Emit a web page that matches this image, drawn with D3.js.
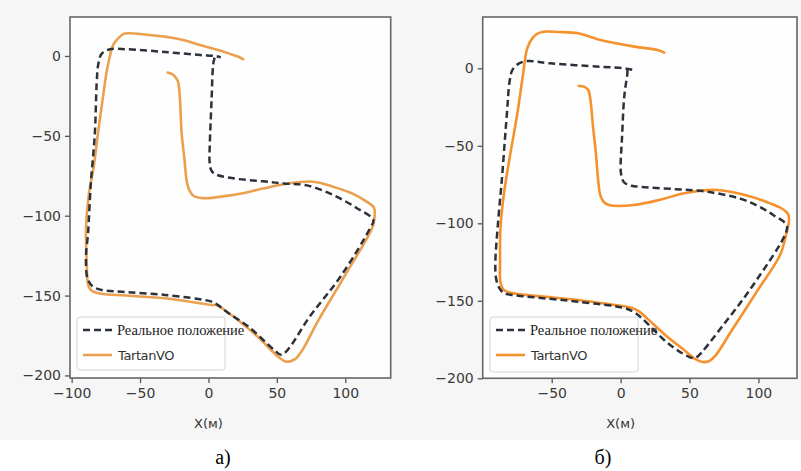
<!DOCTYPE html>
<html>
<head>
<meta charset="utf-8">
<script src="https://cdn.jsdelivr.net/npm/d3@7"></script>
<style>
  body { margin: 0; background: #fff; }
  svg { display: block; }
</style>
</head>
<body>
<div id="chart"></div>
<script>
// ground truth (dashed) and TartanVO trajectories, [x, y] in metres
const gtA = [[4.5,-1],[3.5,-5],[2.3,-27],[1,-55],[0.8,-66],[2,-71.5],[5,-74],[18,-76.6],[40,-78.5],[55,-79.8],[72,-81],[91,-87],[108,-95],[120.5,-102.7],[118,-108],[97.4,-137],[75,-162],[53.5,-187],[48,-184],[30,-170],[13,-160],[7,-156],[2.3,-153.8],[-32,-149.6],[-60,-147.8],[-78,-146.5],[-85,-144],[-88.5,-139],[-89.5,-125],[-88,-111],[-86,-80],[-83,-48],[-81.7,-17],[-80.5,-5],[-78,1.5],[-72,4.2],[-59.6,4.2],[-31.8,2.5],[-6,0.6],[4.5,0],[9,-0.8]];
const voA = [[-29.8,-10.4],[-25.7,-11.9],[-22.5,-15.5],[-21,-25],[-19.6,-48.4],[-17.5,-65],[-16,-77.6],[-14,-84],[-11,-87.5],[-4,-89],[18,-87],[40,-83],[55,-80.3],[76.6,-78.7],[91,-81.8],[105,-86],[115.6,-91.2],[121,-95],[121.5,-100],[120,-107],[100,-137],[80,-166],[68,-185],[63,-190],[57,-191.4],[52,-189],[35,-175],[13.3,-160],[6,-156],[2.3,-155.9],[-31.8,-151.7],[-60,-150],[-80.5,-148.5],[-86,-146.5],[-88,-143],[-89,-128.8],[-89.5,-108],[-87.5,-87],[-84,-70],[-80.6,-47.4],[-77,-25],[-74.4,-9.8],[-72,0],[-69.6,6.9],[-66,11],[-62,13.8],[-58.6,14.2],[-45,13.3],[-31.8,12.1],[-18.4,10],[-6.2,6.9],[10,3],[18,0.6],[22,-0.5],[25.4,-2.1]];

const gtB = [[4.9,-1],[4.9,-3.2],[3.5,-12],[2.4,-20.5],[1,-45],[0,-62],[0.3,-68],[2.4,-73.5],[8,-75.8],[13.6,-76.4],[40,-78],[62.2,-79.6],[86.4,-84],[100,-89],[110.7,-94.6],[120.5,-101.1],[120,-106],[96.2,-139.8],[75,-165],[55,-186.5],[52.4,-187],[45,-184],[33,-176.4],[15.5,-161.3],[10,-157.5],[3.4,-154.8],[-30.9,-150.6],[-60,-148],[-77.5,-146.3],[-84.8,-145],[-88.5,-141],[-90.5,-135],[-90.9,-124.8],[-89,-100],[-87.2,-81.7],[-86.3,-73],[-82.6,-30],[-80.5,-8],[-78.5,-1],[-74,3],[-68,4.7],[-51,3.2],[-14.6,1],[2.4,0],[6,-0.5],[9.7,-1.1]];
const voB = [[-30.4,-11.4],[-26.5,-11.8],[-23.5,-14],[-21.9,-20.5],[-20,-38],[-18.2,-52.7],[-16,-75],[-15,-81],[-12.5,-86],[-8.5,-88.2],[9.7,-88.2],[30,-84.5],[46.2,-80.6],[70.5,-78.5],[94.8,-82.8],[108,-87],[116.6,-90.3],[121.5,-94],[122.2,-98],[120.3,-106.5],[115.7,-120.5],[98.8,-144.1],[80,-170],[69.1,-185],[64,-189],[59.3,-189.5],[54,-187.5],[45,-181],[33,-172.5],[20,-162],[13.6,-157],[8,-154.5],[-10,-152],[-30.9,-149.5],[-60,-147],[-77.5,-145.2],[-84.8,-143],[-87.2,-138],[-87.5,-125],[-87.2,-103.2],[-84.8,-81.7],[-80,-55],[-75.1,-30],[-71,-5],[-67.8,12.9],[-64,19.5],[-60,22.5],[-55.6,23.6],[-45,23.4],[-30.9,22.6],[-14.6,18.3],[10,14],[26.8,11.8],[31.6,10.1]];

const xTicksA = [-100, -50, 0, 50, 100];
const xTicksB = [-50, 0, 50, 100];
const yTicks = [0, -50, -100, -150, -200];
const legendNames = ['Реальное положение', 'TartanVO'];
const xLabel = 'X(м)';
const captions = ['а)', 'б)'];

const width = 801, height = 471;

const svg = d3.select('#chart').append('svg')
    .attr('width', width)
    .attr('height', height);

// light grey screenshot background behind the plots
svg.append('rect').attr('x', 0).attr('y', 0).attr('width', width).attr('height', 440).attr('fill', '#f6f6f6');

const panels = [
    { gt: gtA, vo: voA, xd: [-101.2, 133.2], yd: [-201.6, 24.4], box: [70, 17, 390.7, 378], xt: xTicksA,
      orange: '#eba04f', legend: [77, 317, 148, 53], cap: captions[0], capX: 223 },
    { gt: gtB, vo: voB, xd: [-100.1, 128], yd: [-200, 33.1], box: [482.7, 17, 797, 378.3], xt: xTicksB,
      orange: '#f5922e', legend: [490, 317, 148, 55], cap: captions[1], capX: 603 }
];

panels.forEach((p, i) => {
    const [x0, y0, x1, y1] = p.box;
    const x = d3.scaleLinear().domain(p.xd).range([x0, x1]);
    const y = d3.scaleLinear().domain(p.yd).range([y1, y0]);
    const g = svg.append('g');

    g.append('rect').attr('x', x0).attr('y', y0).attr('width', x1 - x0).attr('height', y1 - y0).attr('fill', '#fefefe');

    g.append('clipPath').attr('id', 'clip' + i)
        .append('rect').attr('x', x0).attr('y', y0).attr('width', x1 - x0).attr('height', y1 - y0);

    const line = d3.line()
        .x(d => x(d[0]))
        .y(d => y(d[1]))
        .curve(d3.curveCatmullRom.alpha(0.5));

    const plot = g.append('g').attr('clip-path', 'url(#clip' + i + ')');
    plot.append('path').attr('d', line(p.vo))
        .attr('fill', 'none').attr('stroke', p.orange).attr('stroke-width', 2.6)
        .attr('stroke-linejoin', 'round').attr('stroke-linecap', 'round');
    plot.append('path').attr('d', line(p.gt))
        .attr('fill', 'none').attr('stroke', '#2c323b').attr('stroke-width', 2.5)
        .attr('stroke-dasharray', '7,4');

    // axes
    const xAxis = g.append('g').attr('transform', `translate(0,${y1})`)
        .call(d3.axisBottom(x).tickValues(p.xt).tickSize(5).tickPadding(5).tickFormat(d3.format('d')));
    const yAxis = g.append('g').attr('transform', `translate(${x0},0)`)
        .call(d3.axisLeft(y).tickValues(yTicks).tickSize(5).tickPadding(4).tickFormat(d3.format('d')));
    [xAxis, yAxis].forEach(a => {
        a.select('.domain').remove();
        a.selectAll('line').attr('stroke', '#555').attr('stroke-width', 1.3);
        a.selectAll('text').attr('font-family', 'DejaVu Sans').attr('font-size', 14).attr('fill', '#3a3a3a');
    });

    g.append('rect').attr('x', x0).attr('y', y0).attr('width', x1 - x0).attr('height', y1 - y0)
        .attr('fill', 'none').attr('stroke', '#666').attr('stroke-width', 1.6);

    // legend
    const [lx, ly, lw, lh] = p.legend;
    g.append('rect').attr('x', lx).attr('y', ly).attr('width', lw).attr('height', lh).attr('rx', 3)
        .attr('fill', '#fff').attr('fill-opacity', 0.8).attr('stroke', '#d4d4d4');
    g.append('line').attr('x1', lx + 6).attr('x2', lx + 35).attr('y1', ly + 13).attr('y2', ly + 13)
        .attr('stroke', '#2c323b').attr('stroke-width', 2.5).attr('stroke-dasharray', '7,4');
    g.append('line').attr('x1', lx + 6).attr('x2', lx + 35).attr('y1', ly + 38).attr('y2', ly + 38)
        .attr('stroke', p.orange).attr('stroke-width', 2.6);
    g.append('text').attr('x', lx + 40).attr('y', ly + 18).text(legendNames[0])
        .attr('font-family', 'Liberation Serif').attr('font-size', 14.5).attr('fill', '#222');
    g.append('text').attr('x', lx + 41).attr('y', ly + 43).text(legendNames[1])
        .attr('font-family', 'DejaVu Sans').attr('font-size', 13).attr('letter-spacing', -0.4).attr('fill', '#333');

    // axis label and caption
    g.append('text').attr('x', x(0)).attr('y', 428).attr('text-anchor', 'middle').text(xLabel)
        .attr('font-family', 'DejaVu Sans').attr('font-size', 13).attr('fill', '#333');
    g.append('text').attr('x', p.capX).attr('y', 464).attr('text-anchor', 'middle').text(p.cap)
        .attr('font-family', 'Liberation Serif').attr('font-size', 20).attr('fill', '#000');
});
</script>
</body>
</html>
